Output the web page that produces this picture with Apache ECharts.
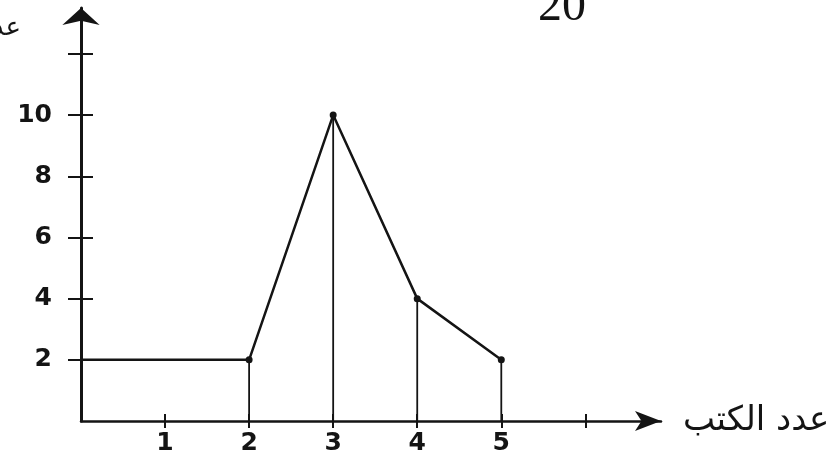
<!DOCTYPE html>
<html>
<head>
<meta charset="utf-8">
<script src="https://cdn.jsdelivr.net/npm/echarts@6/dist/echarts.min.js"></script>
<style>
  html, body { margin: 0; padding: 0; background: #fff; }
  #chart { width: 826px; height: 457px; }
</style>
</head>
<body>
<div id="chart"></div>
<script>
// values
const bookCounts = [0, 2, 3, 4, 5];
const studentCounts = [2, 2, 10, 4, 2];
const xTickValues = [1, 2, 3, 4, 5, 6];
const xLabelValues = [1, 2, 3, 4, 5];
const yTickValues = [2, 4, 6, 8, 10, 12];
const yLabelValues = [2, 4, 6, 8, 10];
const xName = "عدد الكتب";
const yName = "عدد";
const topNote = "20";

const ink = "#141414";
const chart = echarts.init(document.getElementById("chart"));

const lineData = bookCounts.map((x, i) => ({
  value: [x, studentCounts[i]],
  symbolSize: i === 0 ? 0 : 7,
}));

// vertical drops from each marked point down to the x axis
const dropLines = bookCounts
  .map((x, i) => [[x, 0], [x, studentCounts[i]]])
  .filter((seg, i) => i > 0);

const labelFont = { fontFamily: "DejaVu Sans", fontWeight: "bold", fontSize: 25, color: ink };

chart.setOption({
  backgroundColor: "#fff",
  animation: false,
  grid: { left: 81, right: 165, top: 8, bottom: 36, outerBoundsMode: "none", containLabel: false },
  xAxis: [
    {
      type: "value",
      min: 0,
      max: 6.9,
      name: xName,
      nameLocation: "end",
      nameGap: 22,
      nameTextStyle: { fontFamily: "DejaVu Sans", fontSize: 34, color: ink, verticalAlign: "middle" },
      splitLine: { show: false },
      axisLine: {
        show: true,
        symbol: ["none", "arrow"],
        symbolSize: [15, 26],
        lineStyle: { color: ink, width: 2.5 },
      },
      axisTick: { show: true, length: 7, customValues: xTickValues, lineStyle: { color: ink, width: 2 } },
      axisLabel: Object.assign({ margin: 10, customValues: xLabelValues }, labelFont),
    },
    {
      type: "value",
      min: 0,
      max: 6.9,
      position: "bottom",
      splitLine: { show: false },
      axisLine: { show: false },
      axisTick: { show: true, inside: true, length: 7, customValues: xTickValues, lineStyle: { color: ink, width: 2 } },
      axisLabel: { show: false },
    },
  ],
  yAxis: [
    {
      type: "value",
      min: 0,
      max: 13.5,
      splitLine: { show: false },
      axisLine: {
        show: true,
        symbol: ["none", "arrow"],
        symbolSize: [28, 17],
        lineStyle: { color: ink, width: 3 },
      },
      axisTick: { show: true, length: 13, customValues: yTickValues, lineStyle: { color: ink, width: 2 } },
      axisLabel: Object.assign({ margin: 29, customValues: yLabelValues }, labelFont),
    },
    {
      type: "value",
      min: 0,
      max: 13.5,
      position: "left",
      splitLine: { show: false },
      axisLine: { show: false },
      axisTick: { show: true, inside: true, length: 12, customValues: yTickValues, lineStyle: { color: ink, width: 2 } },
      axisLabel: { show: false },
    },
  ],
  series: [
    {
      type: "line",
      data: lineData,
      symbol: "circle",
      itemStyle: { color: ink },
      lineStyle: { color: ink, width: 2.5 },
      z: 5,
    },
  ].concat(
    dropLines.map((seg) => ({
      type: "line",
      data: seg,
      symbol: "none",
      lineStyle: { color: ink, width: 1.8 },
      z: 4,
    }))
  ),
  graphic: [
    {
      type: "text",
      x: 562,
      y: 7,
      style: { text: topNote, font: "48px 'Liberation Serif'", fill: ink, align: "center", verticalAlign: "middle" },
    },
    {
      type: "text",
      x: 21,
      y: 28,
      style: { text: yName, font: "26px 'DejaVu Sans'", fill: ink, align: "right", verticalAlign: "middle" },
    },
  ],
});
</script>
</body>
</html>
